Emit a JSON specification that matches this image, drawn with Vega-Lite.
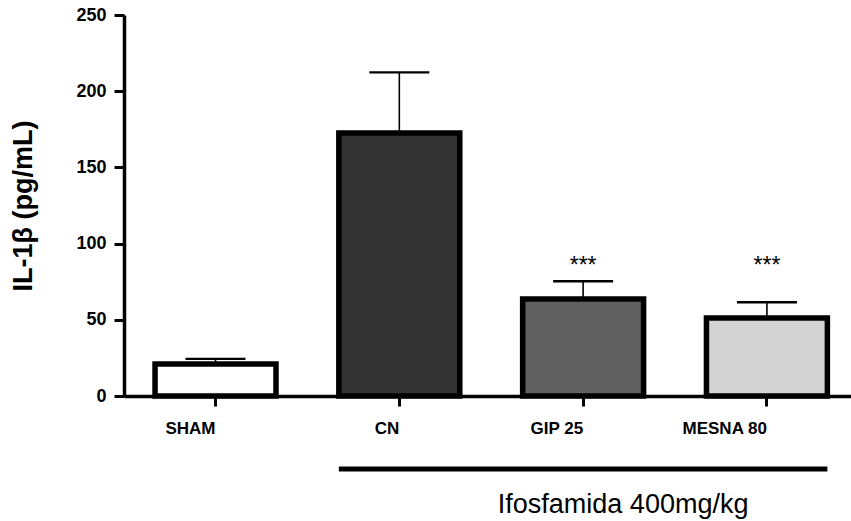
{
  "$schema": "https://vega.github.io/schema/vega-lite/v6.json",
  "width": 727,
  "height": 381,
  "autosize": {"type": "none"},
  "padding": {"left": 124, "top": 15, "right": 0, "bottom": 125},
  "background": "white",
  "config": {"view": {"stroke": null}, "font": "Liberation Sans"},
  "datasets": {
    "bars": [
      {"group": "SHAM", "mean": 21, "upper": 24.3, "sig": ""},
      {"group": "CN", "mean": 172.6, "upper": 212.3, "sig": ""},
      {"group": "GIP 25", "mean": 63.6, "upper": 75.3, "sig": "***"},
      {"group": "MESNA 80", "mean": 51.2, "upper": 61.5, "sig": "***"}
    ],
    "bracket": [
      {"from": "CN", "to": "MESNA 80", "center": "GIP 25", "label": "Ifosfamida 400mg/kg"}
    ]
  },
  "layer": [
    {
      "data": {"name": "bars"},
      "mark": {"type": "rule", "color": "black", "strokeWidth": 1.6},
      "encoding": {
        "x": {"field": "group", "type": "nominal", "sort": ["SHAM", "CN", "GIP 25", "MESNA 80"]},
        "y": {"field": "mean", "type": "quantitative"},
        "y2": {"field": "upper"}
      }
    },
    {
      "data": {"name": "bars"},
      "mark": {"type": "tick", "color": "black", "size": 60, "thickness": 2.3, "opacity": 1},
      "encoding": {
        "x": {"field": "group", "type": "nominal", "sort": ["SHAM", "CN", "GIP 25", "MESNA 80"]},
        "y": {"field": "upper", "type": "quantitative"}
      }
    },
    {
      "data": {"name": "bars"},
      "mark": {"type": "bar", "stroke": "black", "strokeWidth": 5.5, "opacity": 1},
      "encoding": {
        "x": {
          "field": "group",
          "type": "nominal",
          "sort": ["SHAM", "CN", "GIP 25", "MESNA 80"],
          "scale": {"domain": ["SHAM", "CN", "GIP 25", "MESNA 80"], "paddingInner": 0.342, "paddingOuter": 0.1487, "align": 0.568},
          "axis": {
            "title": null,
            "labelAngle": 0,
            "labelFont": "Liberation Sans",
            "labelFontWeight": "bold",
            "labelFontSize": 17,
            "labelColor": "black",
            "labelPadding": 22,
            "tickSize": 10,
            "tickWidth": 3,
            "tickColor": "black",
            "domainColor": "black",
            "domainWidth": 3.5,
            "grid": false
          }
        },
        "y": {
          "field": "mean",
          "type": "quantitative",
          "scale": {"domain": [0, 250], "nice": false, "zero": true},
          "axis": {
            "title": "IL-1β (pg/mL)",
            "titleFont": "Liberation Sans",
            "titleFontWeight": "bold",
            "titleFontSize": 27,
            "titleColor": "black",
            "titlePadding": 38,
            "values": [0, 50, 100, 150, 200, 250],
            "labelFont": "Liberation Sans",
            "labelFontWeight": "bold",
            "labelFontSize": 18,
            "labelColor": "black",
            "labelPadding": 8,
            "tickSize": 10,
            "tickWidth": 3,
            "tickColor": "black",
            "domainColor": "black",
            "domainWidth": 3.5,
            "grid": false
          }
        },
        "color": {
          "field": "group",
          "type": "nominal",
          "scale": {
            "domain": ["SHAM", "CN", "GIP 25", "MESNA 80"],
            "range": ["#ffffff", "#333333", "#606060", "#d3d3d3"]
          },
          "legend": null
        }
      }
    },
    {
      "data": {"name": "bars"},
      "mark": {"type": "text", "fontSize": 23, "font": "Liberation Sans", "color": "black", "baseline": "alphabetic", "align": "center"},
      "encoding": {
        "x": {"field": "group", "type": "nominal", "sort": ["SHAM", "CN", "GIP 25", "MESNA 80"]},
        "y": {"datum": 81},
        "text": {"field": "sig"}
      }
    },
    {
      "data": {"name": "bracket"},
      "mark": {"type": "rule", "color": "black", "strokeWidth": 5, "clip": false},
      "encoding": {
        "x": {"field": "from", "type": "nominal", "bandPosition": 0},
        "x2": {"field": "to", "bandPosition": 1},
        "y": {"datum": -47.9}
      }
    },
    {
      "data": {"name": "bracket"},
      "mark": {"type": "text", "fontSize": 27, "font": "Liberation Sans", "color": "black", "baseline": "alphabetic", "align": "center", "dx": 40, "clip": false},
      "encoding": {
        "x": {"field": "center", "type": "nominal"},
        "y": {"datum": -77},
        "text": {"field": "label"}
      }
    }
  ]
}
